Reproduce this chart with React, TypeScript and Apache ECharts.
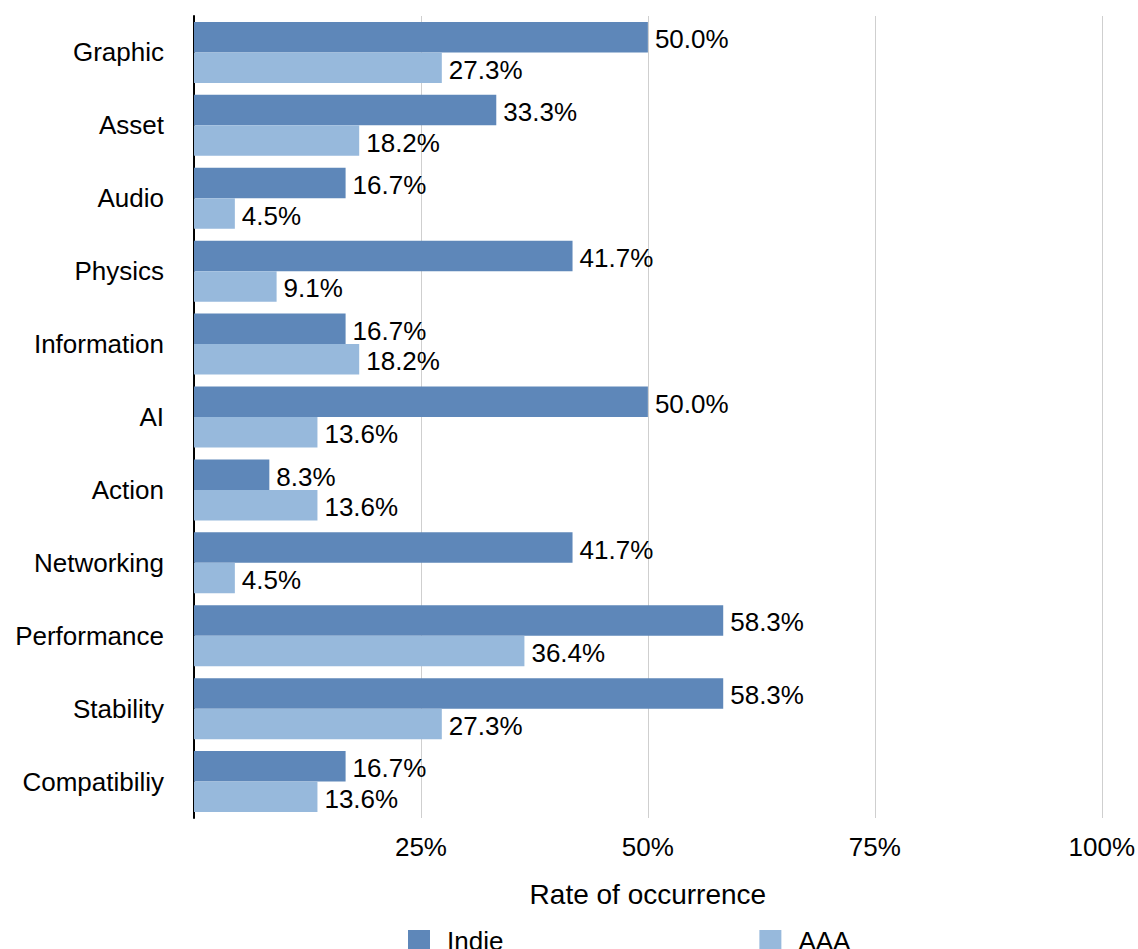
import React, { useEffect, useRef } from "react";
import * as echarts from "echarts";

const categories = [
  "Graphic",
  "Asset",
  "Audio",
  "Physics",
  "Information",
  "AI",
  "Action",
  "Networking",
  "Performance",
  "Stability",
  "Compatibiliy",
];
const indieValues = [50.0, 33.3, 16.7, 41.7, 16.7, 50.0, 8.3, 41.7, 58.3, 58.3, 16.7];
const aaaValues = [27.3, 18.2, 4.5, 9.1, 18.2, 13.6, 13.6, 4.5, 36.4, 27.3, 13.6];
const seriesNames = ["Indie", "AAA"];
const xTicks = [0, 25, 50, 75, 100];
const axisTitle = "Rate of occurrence";

const FONT = "'Liberation Sans', Arial, Helvetica, sans-serif";
const DARK = "#5e87b9";
const LIGHT = "#97b9dc";

export default function App() {
  const ref = useRef<HTMLDivElement>(null);
  useEffect(() => {
    if (!ref.current) return;
    const chart = echarts.init(ref.current, null, { renderer: "svg" });
    const labelCfg = {
      show: true,
      position: "right" as const,
      distance: 7,
      offset: [0, 2],
      color: "#000",
      fontFamily: FONT,
      fontSize: 26,
      formatter: (p: any) => Number(p.value).toFixed(1) + "%",
    };
    chart.setOption({
      animation: false,
      backgroundColor: "#fff",
      textStyle: { fontFamily: FONT },
      grid: { left: 194, right: 36, top: 16, bottom: 131, containLabel: false },
      legend: {
        data: seriesNames,
        left: 408,
        top: 928,
        padding: 0,
        orient: "horizontal",
        itemWidth: 22,
        itemHeight: 22,
        itemGap: 256,
        icon: "rect",
        textStyle: {
          fontFamily: FONT,
          fontSize: 26,
          color: "#000",
          padding: [0, 0, 0, 12],
        },
      },
      xAxis: {
        type: "value",
        min: xTicks[0],
        max: xTicks[xTicks.length - 1],
        interval: 25,
        name: axisTitle,
        nameLocation: "middle",
        nameGap: 62,
        nameTextStyle: { fontFamily: FONT, fontSize: 28, color: "#000" },
        axisLine: { show: false },
        axisTick: { show: false },
        axisLabel: {
          margin: 16,
          fontFamily: FONT,
          fontSize: 26,
          color: "#000",
          formatter: (v: number) => (v === 0 ? "" : v + "%"),
        },
        splitLine: { show: true, lineStyle: { color: "#cfcfcf", width: 1 } },
      },
      yAxis: {
        type: "category",
        data: categories,
        inverse: true,
        axisLine: { show: true, lineStyle: { color: "#000", width: 2 } },
        axisTick: { show: false },
        axisLabel: {
          margin: 30,
          fontFamily: FONT,
          fontSize: 26,
          color: "#000",
        },
        splitLine: { show: false },
      },
      series: [
        {
          name: seriesNames[0],
          type: "bar",
          data: indieValues,
          barWidth: 30.5,
          barGap: "0%",
          itemStyle: { color: DARK },
          label: labelCfg,
          z: 3,
        },
        {
          name: seriesNames[1],
          type: "bar",
          data: aaaValues,
          barWidth: 30.5,
          barGap: "0%",
          itemStyle: { color: LIGHT },
          label: labelCfg,
          z: 3,
        },
      ],
    });
    return () => chart.dispose();
  }, []);
  return (
    <div
      ref={ref}
      style={{ position: "absolute", left: 0, top: 0, width: 1138, height: 949 }}
    />
  );
}
